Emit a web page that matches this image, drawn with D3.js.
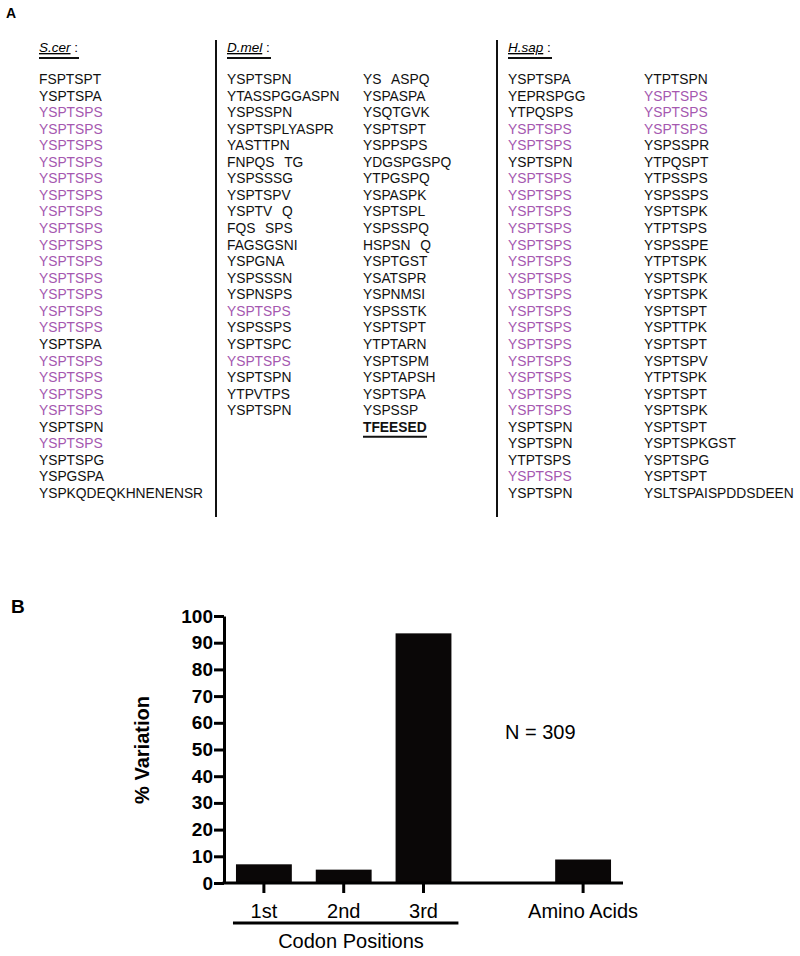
<!DOCTYPE html>
<html>
<head>
<meta charset="utf-8">
<script src="https://cdn.jsdelivr.net/npm/d3@7"></script>
<style>
  body { margin: 0; background: #fff; }
  svg { font-family: "Liberation Sans", Arial, Helvetica, sans-serif; }
</style>
</head>
<body>
<script>
// ---- panel A: CTD repeats per species ----
var scer = ["FSPTSPT","YSPTSPA","YSPTSPS","YSPTSPS","YSPTSPS","YSPTSPS","YSPTSPS","YSPTSPS",
  "YSPTSPS","YSPTSPS","YSPTSPS","YSPTSPS","YSPTSPS","YSPTSPS","YSPTSPS","YSPTSPS","YSPTSPA",
  "YSPTSPS","YSPTSPS","YSPTSPS","YSPTSPS","YSPTSPN","YSPTSPS","YSPTSPG","YSPGSPA",
  "YSPKQDEQKHNENENSR"];
var dmel1 = ["YSPTSPN","YTASSPGGASPN","YSPSSPN","YSPTSPLYASPR","YASTTPN","FNPQS TG","YSPSSSG",
  "YSPTSPV","YSPTV Q","FQS SPS","FAGSGSNI","YSPGNA","YSPSSSN","YSPNSPS","YSPTSPS","YSPSSPS",
  "YSPTSPC","YSPTSPS","YSPTSPN","YTPVTPS","YSPTSPN"];
var dmel2 = ["YS ASPQ","YSPASPA","YSQTGVK","YSPTSPT","YSPPSPS","YDGSPGSPQ","YTPGSPQ","YSPASPK",
  "YSPTSPL","YSPSSPQ","HSPSN Q","YSPTGST","YSATSPR","YSPNMSI","YSPSSTK","YSPTSPT","YTPTARN",
  "YSPTSPM","YSPTAPSH","YSPTSPA","YSPSSP","TFEESED"];
var hsap1 = ["YSPTSPA","YEPRSPGG","YTPQSPS","YSPTSPS","YSPTSPS","YSPTSPN","YSPTSPS","YSPTSPS",
  "YSPTSPS","YSPTSPS","YSPTSPS","YSPTSPS","YSPTSPS","YSPTSPS","YSPTSPS","YSPTSPS","YSPTSPS",
  "YSPTSPS","YSPTSPS","YSPTSPS","YSPTSPS","YSPTSPN","YSPTSPN","YTPTSPS","YSPTSPS","YSPTSPN"];
var hsap2 = ["YTPTSPN","YSPTSPS","YSPTSPS","YSPTSPS","YSPSSPR","YTPQSPT","YTPSSPS","YSPSSPS",
  "YSPTSPK","YTPTSPS","YSPSSPE","YTPTSPK","YSPTSPK","YSPTSPK","YSPTSPT","YSPTTPK","YSPTSPT",
  "YSPTSPV","YTPTSPK","YSPTSPT","YSPTSPK","YSPTSPT","YSPTSPKGST","YSPTSPG","YSPTSPT",
  "YSLTSPAISPDDSDEEN"];
var consensus = "YSPTSPS";
var lastRepeat = "TFEESED";

// ---- panel B: variation ----
var positions = ["1st","2nd","3rd","","Amino Acids"];
var categories = ["1st","2nd","3rd","Amino Acids"];
var variation = [7, 5, 93.5, 8.8];
var yTicks = [0,10,20,30,40,50,60,70,80,90,100];

var width = 800, height = 956;
var purple = "#a558b0";

var svg = d3.select("body").append("svg")
  .attr("width", width)
  .attr("height", height);

// panel letters
svg.append("text").attr("x", 6).attr("y", 18)
  .attr("font-weight", "bold").attr("font-size", 14).text("A");
svg.append("text").attr("x", 11).attr("y", 613)
  .attr("font-weight", "bold").attr("font-size", 19).text("B");

// row positions for sequence lists
var row = d3.scaleLinear().domain([0, 25]).range([84, 498]);

var columns = [
  {x: 39, seqs: scer}, {x: 227, seqs: dmel1}, {x: 363, seqs: dmel2},
  {x: 508, seqs: hsap1}, {x: 644, seqs: hsap2}
];
var headers = [
  {x: 39, name: "S.cer", w: 40}, {x: 227, name: "D.mel", w: 44}, {x: 508, name: "H.sap", w: 44}
];

var ga = svg.append("g");

headers.forEach(function(h) {
  var t = ga.append("text").attr("x", h.x).attr("y", 52).attr("font-size", 13.5);
  t.append("tspan").attr("font-style", "italic").attr("text-decoration", "underline").text(h.name);
  t.append("tspan").text(" :");
  ga.append("line").attr("x1", h.x).attr("x2", h.x + h.w)
    .attr("y1", 58).attr("y2", 58).attr("stroke", "#111").attr("stroke-width", 2);
});

// gaps in the alignment are one letter wide
columns.forEach(function(c) {
  ga.append("g").selectAll("text")
    .data(c.seqs)
    .enter().append("text")
    .attr("x", c.x)
    .attr("y", function(d, i) { return row(i); })
    .attr("font-size", 13.8)
    .attr("font-weight", function(d) { return d === lastRepeat ? "bold" : null; })
    .attr("fill", function(d) { return d === consensus ? purple : "#111"; })
    .text(function(d) { return d.replace(/ /g, "\u2002\u2009"); });
});

// underline under last D.mel repeat
ga.append("line").attr("x1", 363).attr("x2", 427)
  .attr("y1", row(dmel2.length - 1) + 5).attr("y2", row(dmel2.length - 1) + 5)
  .attr("stroke", "#111").attr("stroke-width", 2);

// separators
[216, 497].forEach(function(x) {
  ga.append("line").attr("x1", x).attr("x2", x).attr("y1", 40).attr("y2", 517)
    .attr("stroke", "#111").attr("stroke-width", 2);
});

// ---- panel B chart ----
var x = d3.scaleBand().domain(positions).range([224, 623])
  .paddingInner(0.3).paddingOuter(0.15);
var y = d3.scaleLinear().domain([0, 100]).range([883, 616]);

var gb = svg.append("g");

gb.selectAll("rect.bar")
  .data(categories)
  .enter().append("rect")
  .attr("class", "bar")
  .attr("x", function(d) { return x(d); })
  .attr("width", x.bandwidth())
  .attr("y", function(d, i) { return y(variation[i]); })
  .attr("height", function(d, i) { return y(0) - y(variation[i]); })
  .attr("fill", "#0a0707");

var yAxis = gb.append("g")
  .attr("transform", "translate(224,0)")
  .call(d3.axisLeft(y).tickValues(yTicks).tickSize(10).tickSizeOuter(0).tickPadding(1));
yAxis.selectAll("line, path").attr("stroke", "#000").attr("stroke-width", 3);
yAxis.selectAll("text").attr("font-size", 19).attr("font-weight", "bold")
  .attr("fill", "#000").attr("font-family", "Liberation Sans, Arial, sans-serif");

var xAxis = gb.append("g")
  .attr("transform", "translate(0,883)")
  .call(d3.axisBottom(x).tickValues(categories).tickSize(10).tickSizeOuter(0).tickPadding(11));
xAxis.select("path").attr("d", "M222.5,0H623");
xAxis.selectAll("line, path").attr("stroke", "#000").attr("stroke-width", 3);
xAxis.selectAll("text").attr("font-size", 20).attr("fill", "#000")
  .attr("font-family", "Liberation Sans, Arial, sans-serif");

// codon position bracket
gb.append("line").attr("x1", x("1st") - 3).attr("x2", x("3rd") + x.bandwidth() + 7)
  .attr("y1", 923).attr("y2", 923).attr("stroke", "#000").attr("stroke-width", 3);
gb.append("text").attr("x", 351).attr("y", 948).attr("text-anchor", "middle")
  .attr("font-size", 20).text("Codon Positions");

gb.append("text")
  .attr("transform", "translate(149,750) rotate(-90)")
  .attr("text-anchor", "middle")
  .attr("font-size", 20).attr("font-weight", "bold")
  .text("% Variation");

gb.append("text").attr("x", 505).attr("y", 739)
  .attr("font-size", 20).text("N = 309");
</script>
</body>
</html>
